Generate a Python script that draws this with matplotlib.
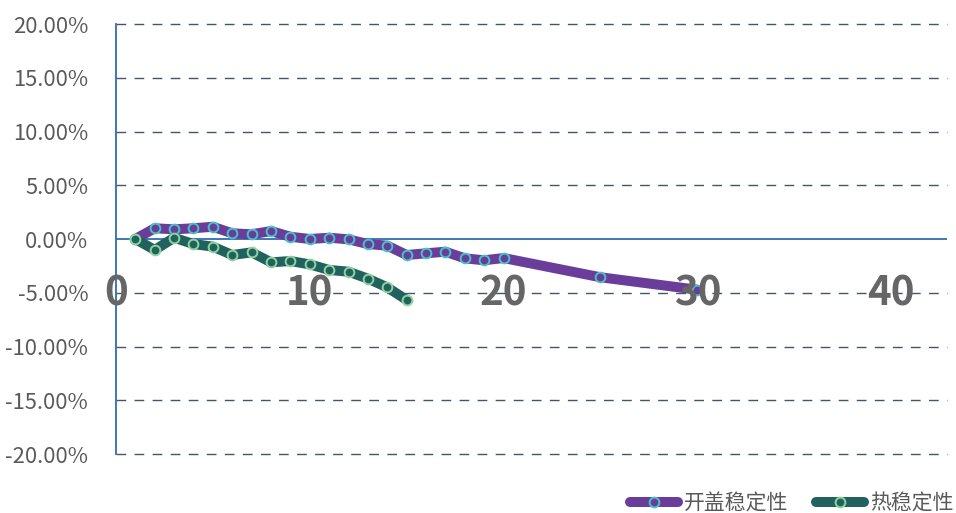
import matplotlib
matplotlib.use("Agg")
import matplotlib.pyplot as plt
from matplotlib.ticker import FuncFormatter

plt.rcParams['font.family'] = ['Noto Sans CJK SC', 'DejaVu Sans']

# 开盖稳定性
lid_x = [1, 2, 3, 4, 5, 6, 7, 8, 9, 10, 11, 12, 13, 14, 15, 16, 17, 18, 19, 20, 25, 30]
lid_y = [0.0, 1.0, 0.9, 1.0, 1.14, 0.53, 0.44, 0.74, 0.21, 0.0, 0.12, -0.03, -0.47, -0.62,
         -1.49, -1.33, -1.18, -1.8, -1.98, -1.77, -3.56, -4.72]

# 热稳定性
heat_x = [1, 2, 3, 4, 5, 6, 7, 8, 9, 10, 11, 12, 13, 14, 15]
heat_y = [0.0, -1.02, 0.12, -0.47, -0.71, -1.49, -1.24, -2.17, -2.05, -2.36, -2.88, -3.04,
          -3.69, -4.5, -5.67]

y_ticks = [20, 15, 10, 5, 0, -5, -10, -15, -20]
x_labels = [0, 10, 20, 30, 40]

purple = '#6A3D9A'
green = '#21625F'

fig = plt.figure(figsize=(9.56, 5.13), dpi=100)
ax = fig.add_axes([0.1213, 0.115, 0.8697, 0.8382])

ax.set_xlim(0, 42.9)
ax.set_ylim(-20, 20)

# gridlines
for v in y_ticks:
    if v == 0:
        continue
    ax.axhline(v, color='#44546A', lw=1.0, dashes=(7, 6), zorder=1, clip_on=False)
ax.axhline(0, color='#2E6DB0', lw=1.3, zorder=2)

ax.plot(lid_x, lid_y, color=purple, lw=7.2, marker='o', ms=7, mfc=purple,
        mec='#45C3C8', mew=1.4, solid_capstyle='round', solid_joinstyle='round',
        label='开盖稳定性', zorder=3)
ax.plot(heat_x, heat_y, color=green, lw=7.2, marker='o', ms=7, mfc=green,
        mec='#8ED39C', mew=1.4, solid_capstyle='round', solid_joinstyle='round',
        label='热稳定性', zorder=4)

# x labels sit on the axis crossing region
for xv in x_labels:
    ax.text(xv, -5.1, str(xv), ha='center', va='center', fontsize=29,
            color='#666666', fontweight='bold', zorder=5)

for s in ['top', 'right', 'bottom']:
    ax.spines[s].set_visible(False)
ax.spines['left'].set_color('#2E6DB0')
ax.spines['left'].set_linewidth(1.3)

ax.set_xticks([])
ax.set_yticks(y_ticks)
ax.yaxis.set_major_formatter(FuncFormatter(lambda v, p: f'{v:.2f}%'))
ax.tick_params(axis='y', length=0, pad=20, labelsize=15.8, labelcolor='#595959')

leg = fig.legend(loc='lower right', bbox_to_anchor=(1.017, -0.04), ncol=2, frameon=False,
                 fontsize=15, handlelength=2.3, columnspacing=1.3, handletextpad=0.3,
                 labelcolor='#595959')

fig.savefig('out.png', dpi=100)
